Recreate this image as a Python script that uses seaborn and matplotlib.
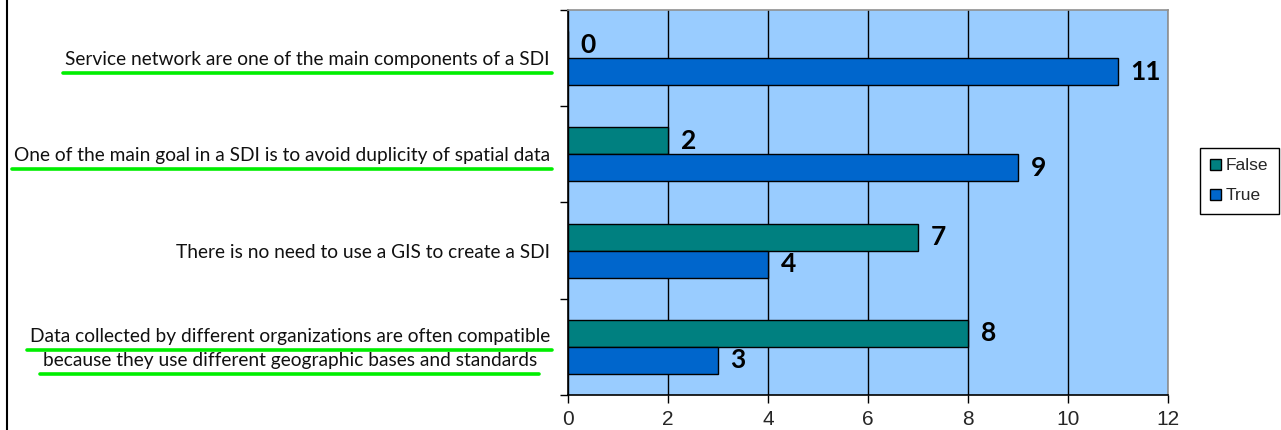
import matplotlib
matplotlib.use("Agg")
import matplotlib.pyplot as plt
from matplotlib import font_manager
from matplotlib.lines import Line2D
from matplotlib.patches import Patch
from matplotlib.transforms import ScaledTranslation
import seaborn as sns
import pandas as pd

# Survey statements and answer counts
statements = [
    "Service network are one of the main components of a SDI",
    "One of the main goal in a SDI is to avoid duplicity of spatial data",
    "There is no need to use a GIS to create a SDI",
    "Data collected by different organizations are often compatible\n"
    "because they use different geographic bases and standards",
]
false_counts = [0, 2, 7, 8]
true_counts = [11, 9, 4, 3]
answers = ["False", "True"]
underlined = [True, True, False, True]

colors = {"False": "#008080", "True": "#0066CC"}

df = pd.DataFrame({
    "statement": statements * 2,
    "answer": ["False"] * len(statements) + ["True"] * len(statements),
    "count": false_counts + true_counts,
})

sns.set_theme(style="white")
plt.rcParams["font.family"] = ["Lato", "DejaVu Sans"]

installed = {f.name for f in font_manager.fontManager.ttflist}
axis_font = ("Liberation Sans Narrow" if "Liberation Sans Narrow" in installed
             else "Liberation Sans")

W, H = 1281, 430
fig = plt.figure(figsize=(W / 100, H / 100), dpi=100)
ax = fig.add_axes([568 / W, 35 / H, 600 / W, 385 / H])
ax.set_facecolor("#99CCFF")

sns.barplot(data=df, y="statement", x="count", hue="answer",
            order=statements, hue_order=answers, palette=colors,
            orient="h", width=0.56, saturation=1, edgecolor="black",
            linewidth=1, ax=ax, zorder=3)

ax.set_xlim(0, 12)
ax.set_ylim(len(statements) - 0.5, -0.5)
ax.set_xticks(range(0, 13, 2))
ax.set_xlabel("")
ax.set_ylabel("")

# vertical grid
ax.grid(axis="x", color="black", linewidth=1, zorder=1)
ax.set_axisbelow(True)

# spines
for side in ("left", "bottom"):
    ax.spines[side].set_color("black")
    ax.spines[side].set_linewidth(1.2)
for side in ("right", "top"):
    ax.spines[side].set_color("#909090")
    ax.spines[side].set_linewidth(1.2)

# ticks
ax.tick_params(axis="x", direction="out", length=6, width=1, color="black",
               pad=5, labelsize=15, bottom=True)
for lab in ax.get_xticklabels():
    lab.set_fontfamily(axis_font)
ax.tick_params(axis="y", which="major", length=0, pad=13, labelsize=13.8,
               labelcolor="#111111")
ax.set_yticks([i - 0.5 for i in range(len(statements) + 1)], minor=True)
ax.tick_params(axis="y", which="minor", direction="out", length=6, width=1,
               color="black", left=True)
for lab in ax.get_yticklabels():
    lab.set_multialignment("center")
    lab.set_linespacing(1.5)

# value labels
for cont in ax.containers:
    ax.bar_label(cont, fmt="%d", padding=9, fontsize=19, fontweight="bold",
                 color="black")

# legend
if ax.legend_ is not None:
    ax.legend_.remove()
handles = [Patch(facecolor=colors[a], edgecolor="black", linewidth=1)
           for a in answers]
leg = fig.legend(handles, answers, loc="upper left",
                 bbox_to_anchor=(1200 / W, 1 - 148 / H), frameon=True,
                 fancybox=False, edgecolor="black", framealpha=1,
                 prop={"family": "Liberation Sans", "size": 12.5},
                 handlelength=0.6, handleheight=0.6, handletextpad=0.3,
                 labelspacing=0.85, borderpad=0.6, borderaxespad=0)
leg.get_frame().set_linewidth(1)

# left border of the chart area
fig.add_artist(Line2D([7 / W, 7 / W], [0, 1], transform=fig.transFigure,
                      color="black", linewidth=1.5))

# lift the two-line statement slightly
fig.canvas.draw()
for lab in ax.get_yticklabels():
    if "\n" in lab.get_text():
        lab.set_transform(lab.get_transform()
                          + ScaledTranslation(0, 3 / 100, fig.dpi_scale_trans))
fig.canvas.draw()

# green underlines below selected statements
renderer = fig.canvas.get_renderer()
for lab, flag in zip(ax.get_yticklabels(), underlined):
    if not flag:
        continue
    bb = lab.get_window_extent(renderer)
    lines = lab.get_text().split("\n")
    widths, heights = [], []
    for line in lines:
        t = fig.text(0, 0, line, fontsize=lab.get_fontsize(),
                     fontfamily=lab.get_fontfamily())
        e = t.get_window_extent(renderer)
        widths.append(e.width)
        heights.append(e.height)
        t.remove()
    n = len(lines)
    step = (bb.height - heights[-1]) / (n - 1) if n > 1 else 0
    cx = (bb.x0 + bb.x1) / 2
    for i, w in enumerate(widths):
        y = bb.y0 - 5 + step * (n - 1 - i)
        if n > 1:
            x0, x1 = cx - w / 2 - 3, cx + w / 2 + 2
        else:
            x0, x1 = bb.x1 - w - 2, bb.x1 + 2
        fig.add_artist(Line2D([x0 / W, x1 / W], [y / H, y / H],
                              transform=fig.transFigure, color="#00EE00",
                              linewidth=2.6, solid_capstyle="round"))

fig.savefig("out.png", dpi=100, facecolor="white")
